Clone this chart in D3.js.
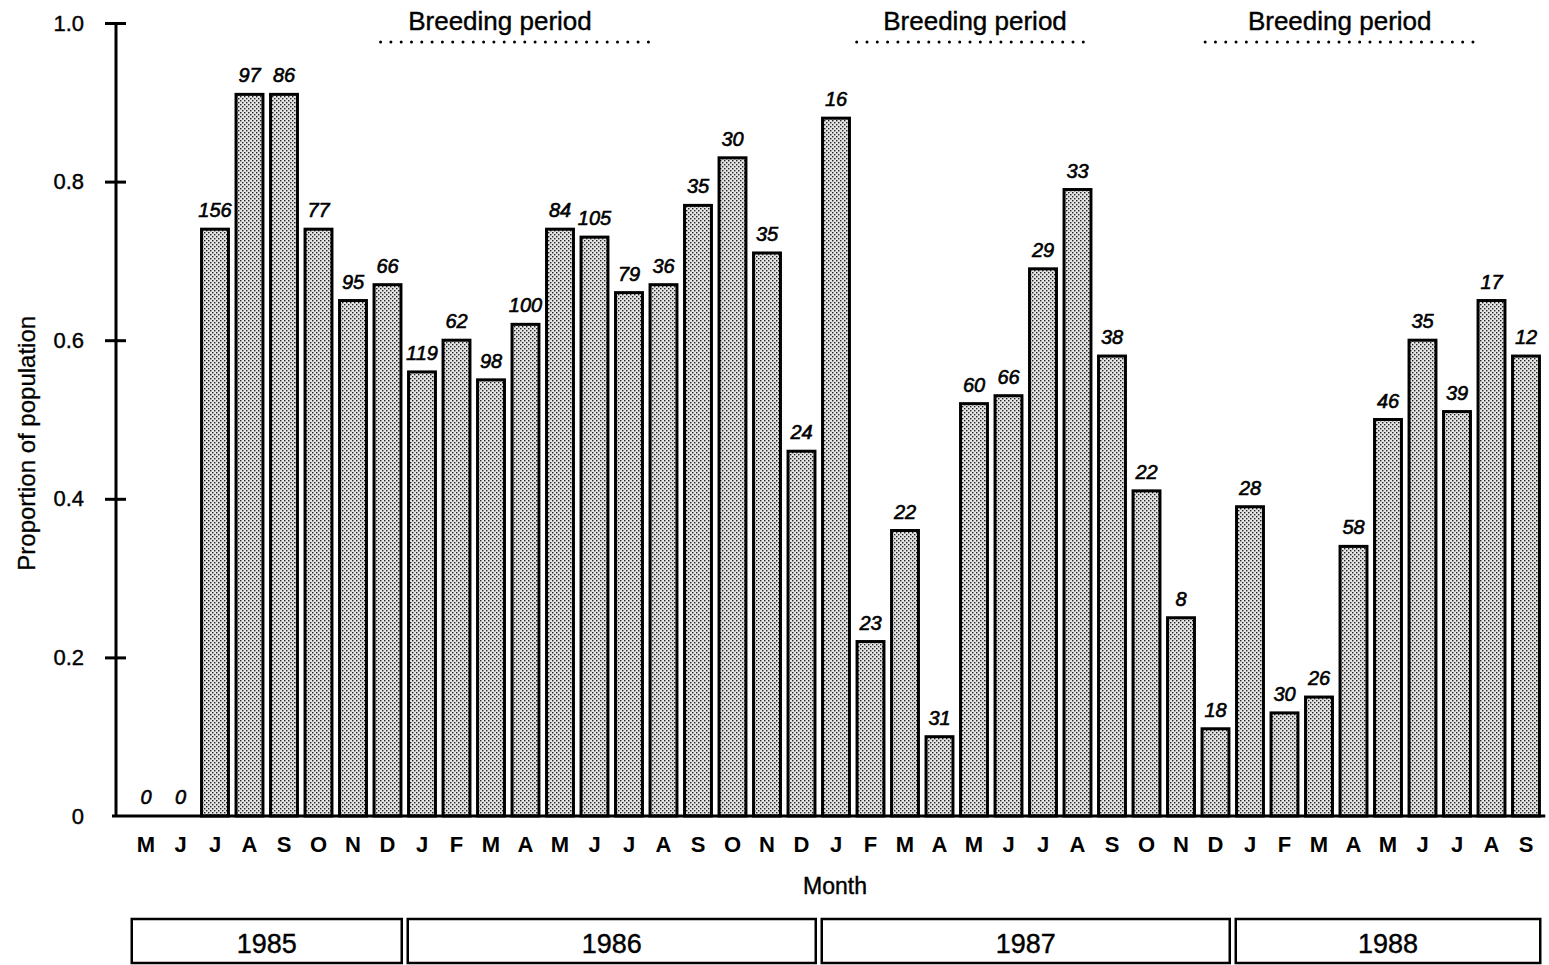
<!DOCTYPE html>
<html>
<head>
<meta charset="utf-8">
<script src="https://cdn.jsdelivr.net/npm/d3@7"></script>
<style>
  body { margin: 0; background: #fff; }
  text { font-family: "Liberation Sans", Arial, Helvetica, sans-serif; fill: #000; }
</style>
</head>
<body>
<svg id="drawing_region" width="1549" height="965"></svg>
<script>
// months May 1985 .. Sep 1988
const months = ["M","J","J","A","S","O","N","D",
  "J","F","M","A","M","J","J","A","S","O","N","D",
  "J","F","M","A","M","J","J","A","S","O","N","D",
  "J","F","M","A","M","J","J","A","S"];
const proportions = [0, 0, 0.74, 0.91, 0.91, 0.74, 0.65, 0.67,
  0.56, 0.60, 0.55, 0.62, 0.74, 0.73, 0.66, 0.67, 0.77, 0.83, 0.71, 0.46,
  0.88, 0.22, 0.36, 0.10, 0.52, 0.53, 0.69, 0.79, 0.58, 0.41, 0.25, 0.11,
  0.39, 0.13, 0.15, 0.34, 0.50, 0.60, 0.51, 0.65, 0.58];
const sampleSizes = [0, 0, 156, 97, 86, 77, 95, 66,
  119, 62, 98, 100, 84, 105, 79, 36, 35, 30, 35, 24,
  16, 23, 22, 31, 60, 66, 29, 33, 38, 22, 8, 18,
  28, 30, 26, 58, 46, 35, 39, 17, 12];
const years = ["1985", "1986", "1987", "1988"];
const yearFirst = [0, 8, 20, 32];
const yearLast = [7, 19, 31, 40];
// breeding periods, in month-index units
const breedStart = [6.8, 20.6, 30.7];
const breedEnd = [14.8, 27.3, 38.6];
const breedLabelAt = [10.26, 24.03, 34.6];
const yTicks = [0, 0.2, 0.4, 0.6, 0.8, 1.0];

const svg = d3.select('#drawing_region');

const x = d3.scaleLinear().domain([0, months.length - 1]).range([146, 1526]);
const step = x(1) - x(0);
const bw = step * 0.78;
const y = d3.scaleLinear().domain([0, 1]).range([816, 23]);

// stipple pattern for the bars
const pat = svg.append('defs').append('pattern')
  .attr('id', 'stip').attr('patternUnits', 'userSpaceOnUse')
  .attr('width', 4).attr('height', 4);
pat.append('rect').attr('width', 4).attr('height', 4).attr('fill', '#e4e4e4');
pat.append('rect').attr('x', 0).attr('y', 0).attr('width', 1.4).attr('height', 1.4).attr('fill', '#222');
pat.append('rect').attr('x', 2).attr('y', 2).attr('width', 1.4).attr('height', 1.4).attr('fill', '#222');

const data = months.map((m, i) => ({ m: m, i: i, v: proportions[i], n: sampleSizes[i] }));

// bars
svg.selectAll('rect.bar')
  .data(data.filter(d => d.v > 0))
  .enter().append('rect')
  .attr('class', 'bar')
  .attr('x', d => x(d.i) - bw / 2)
  .attr('width', bw)
  .attr('y', d => y(d.v))
  .attr('height', d => y(0) - y(d.v))
  .attr('fill', 'url(#stip)')
  .attr('stroke', '#000')
  .attr('stroke-width', 3);

// sample size labels
svg.selectAll('text.n')
  .data(data)
  .enter().append('text')
  .attr('class', 'n')
  .attr('x', d => x(d.i))
  .attr('y', d => y(d.v) - 12)
  .attr('text-anchor', 'middle')
  .attr('font-size', 20)
  .attr('font-style', 'italic')
  .attr('stroke', '#000').attr('stroke-width', 0.6)
  .text(d => d.n);

// y axis
const yAxis = d3.axisLeft(y).tickValues(yTicks)
  .tickFormat(d => d === 0 ? "0" : d3.format(".1f")(d))
  .tickSize(0).tickPadding(0);
const ya = svg.append('g').attr('transform', 'translate(116,0)').call(yAxis);
ya.select('.domain').remove();
ya.selectAll('text').attr('x', -32).attr('font-size', 22).attr('font-family', null)
  .attr('stroke', '#000').attr('stroke-width', 0.4);
ya.selectAll('.tick').filter(d => d > 0).append('line')
  .attr('x1', -11).attr('x2', 10).attr('stroke', '#000').attr('stroke-width', 3);
svg.append('line')
  .attr('x1', 116).attr('x2', 116).attr('y1', y(1)).attr('y2', y(0))
  .attr('stroke', '#000').attr('stroke-width', 3);
// baseline
svg.append('line')
  .attr('x1', 112).attr('x2', x(months.length - 1) + step / 2 + 2)
  .attr('y1', y(0)).attr('y2', y(0))
  .attr('stroke', '#000').attr('stroke-width', 3);

// month labels
svg.selectAll('text.month')
  .data(data)
  .enter().append('text')
  .attr('class', 'month')
  .attr('x', d => x(d.i))
  .attr('y', 852)
  .attr('text-anchor', 'middle')
  .attr('font-size', 22)
  .attr('font-weight', 'bold')
  .text(d => d.m);

svg.append('text')
  .attr('x', (x(0) + x(months.length - 1)) / 2 - 1).attr('y', 894)
  .attr('text-anchor', 'middle').attr('font-size', 23)
  .attr('stroke', '#000').attr('stroke-width', 0.4)
  .text('Month');

svg.append('text')
  .attr('transform', 'translate(35,' + y(0.47) + ') rotate(-90)')
  .attr('text-anchor', 'middle').attr('font-size', 24)
  .attr('stroke', '#000').attr('stroke-width', 0.3)
  .text('Proportion of population');

// breeding periods
breedStart.forEach((s, k) => {
  const e = breedEnd[k];
  svg.append('line')
    .attr('x1', x(s)).attr('x2', x(e)).attr('y1', 42).attr('y2', 42)
    .attr('stroke', '#000').attr('stroke-width', 3)
    .attr('stroke-linecap', 'round')
    .attr('stroke-dasharray', '0,10.3');
  svg.append('text')
    .attr('x', x(breedLabelAt[k])).attr('y', 30)
    .attr('text-anchor', 'middle').attr('font-size', 26)
    .attr('stroke', '#000').attr('stroke-width', 0.4)
    .text('Breeding period');
});

// year boxes
years.forEach((yr, k) => {
  const x0 = x(yearFirst[k] - 0.5) + 3;
  const x1 = x(yearLast[k] + 0.5) - 3;
  svg.append('rect')
    .attr('x', x0).attr('y', 919).attr('width', x1 - x0).attr('height', 44)
    .attr('fill', 'none').attr('stroke', '#000').attr('stroke-width', 2.5);
  svg.append('text')
    .attr('x', (x0 + x1) / 2).attr('y', 953)
    .attr('text-anchor', 'middle').attr('font-size', 27)
    .attr('stroke', '#000').attr('stroke-width', 0.4)
    .text(yr);
});
</script>
</body>
</html>
